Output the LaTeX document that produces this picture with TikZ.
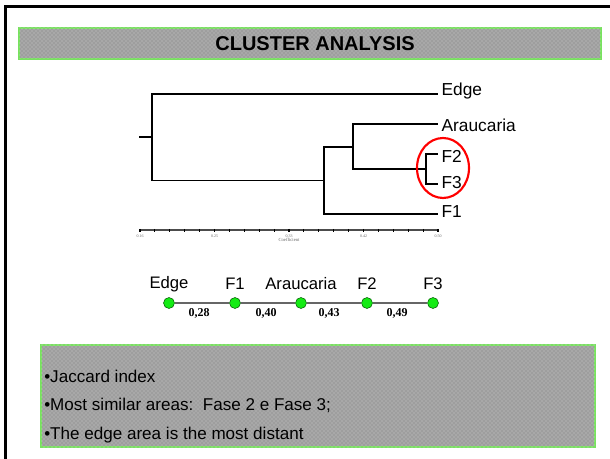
\documentclass[tikz,border=0pt]{standalone}
\usepackage{fontspec}
\setmainfont{Liberation Sans}
\newfontfamily\numfont{Liberation Serif}
\usetikzlibrary{positioning,patterns}
\definecolor{boxgreen}{RGB}{120,225,95}
\definecolor{dotgreen}{RGB}{20,235,20}

\begin{document}
\begin{tikzpicture}[x=0.75pt,y=-0.75pt,
   slidebox/.style={draw=boxgreen,fill=black!38,line width=1.3pt,
     postaction={pattern=crosshatch dots,pattern color=white!80!black}},
   leaftext/.style={anchor=west,inner sep=1pt,font=\fontsize{13}{15}\selectfont},
   chaintext/.style={inner sep=0pt,font=\fontsize{12.5}{14}\selectfont},
   chaindot/.style={circle,draw=green!35!black,fill=dotgreen,minimum size=8.2pt,inner sep=0pt},
   weight/.style={inner sep=0pt,font=\numfont\bfseries\fontsize{9}{10}\selectfont},
   bullet/.style={anchor=west,inner sep=0pt,font=\fontsize{12.8}{15}\selectfont},
   tick/.style={inner sep=0pt,text=black!60,font=\numfont\fontsize{3}{3}\selectfont}]
   \useasboundingbox (0,0) rectangle (610,459);
   \draw[line width=2.2pt] (610,6.5) -- (5.5,6.5) -- (5.5,459);
   \draw[slidebox] (19,28) rectangle (601,59);
   \node[font=\bfseries\fontsize{15}{17}\selectfont] (title) at (315,44) {CLUSTER ANALYSIS};
   \coordinate (lEdge) at (438,94);
   \coordinate (lArau) at (438,124);
   \coordinate (lF2) at (438,154);
   \coordinate (lF3) at (438,184);
   \coordinate (lF1) at (438,214);
   \coordinate (j23) at (426,169);
   \coordinate (jAr) at (353,147);
   \coordinate (jF1) at (324,180.5);
   \coordinate (jAll) at (152,137);
   \coordinate (root) at (139,137);
   \draw[line width=0.8pt] (j23) |- (lF2);
   \draw[line width=0.8pt] (j23) |- (lF3);
   \draw[line width=0.8pt] (jAr) |- (lArau);
   \draw[line width=0.8pt] (jAr) |- (j23);
   \draw[line width=0.8pt] (jF1) |- (jAr);
   \draw[line width=0.8pt] (jF1) |- (lF1);
   \draw[line width=0.8pt] (jAll) |- (lEdge);
   \draw[line width=0.8pt] (jAll) |- (jF1);
   \draw[line width=0.8pt] (root) -- (jAll);
   \node[leaftext] (nEdge) at (440,91) {Edge};
   \node[leaftext] (nArau) at (440,125) {Araucaria};
   \node[leaftext] (nF2) at (440,156) {F2};
   \node[leaftext] (nF3) at (440,183) {F3};
   \node[leaftext] (nF1) at (440,212) {F1};
   \draw[red,line width=1.6pt] (443,168) ellipse (26 and 30);
   \coordinate (axL) at (140,230);
   \coordinate (axR) at (438,230);
   \draw[line width=0.8pt,black!70] (axL) -- (axR);
   \foreach \i in {0,...,20}
     \draw[line width=0.8pt] (140+\i*14.9,229) -- (140+\i*14.9,232);
   \foreach \v/\i in {0.16/0,0.25/5,0.33/10,0.42/15,0.50/20}
     \node[tick] at (140+\i*14.9,236) {\v};
   \node[tick,font=\numfont\fontsize{3.5}{4}\selectfont] (coef) at (289,240) {Coefficient};
   \node[chaindot] (cEdge) at (169,303) {};
   \node[chaindot] (cF1) at (235,303) {};
   \node[chaindot] (cArau) at (301,303) {};
   \node[chaindot] (cF2) at (367,303) {};
   \node[chaindot] (cF3) at (433,303) {};
   \draw[black!60,line width=1.1pt] (cEdge) -- (cF1);
   \draw[black!60,line width=1.1pt] (cF1) -- (cArau);
   \draw[black!60,line width=1.1pt] (cArau) -- (cF2);
   \draw[black!60,line width=1.1pt] (cF2) -- (cF3);
   \node[chaintext] (tEdge) at (169,284) {Edge};
   \node[chaintext] (tF1) at (235,284) {F1};
   \node[chaintext] (tArau) at (301,284) {Araucaria};
   \node[chaintext] (tF2) at (367,284) {F2};
   \node[chaintext] (tF3) at (433,284) {F3};
   \node[weight] (w1) at (199,313) {0,28};
   \node[weight] (w2) at (266,313) {0,40};
   \node[weight] (w3) at (329,313) {0,43};
   \node[weight] (w4) at (397,313) {0,49};
   \draw[slidebox] (41,345) rectangle (595,447);
   \node[bullet] (b1) at (44,376) {\textbullet Jaccard index};
   \node[bullet] (b2) at (44,405) {\textbullet Most similar areas:\ \ Fase 2 e Fase 3;};
   \node[bullet] (b3) at (44,435) {\textbullet The edge area is the most distant};
\end{tikzpicture}
\end{document}
